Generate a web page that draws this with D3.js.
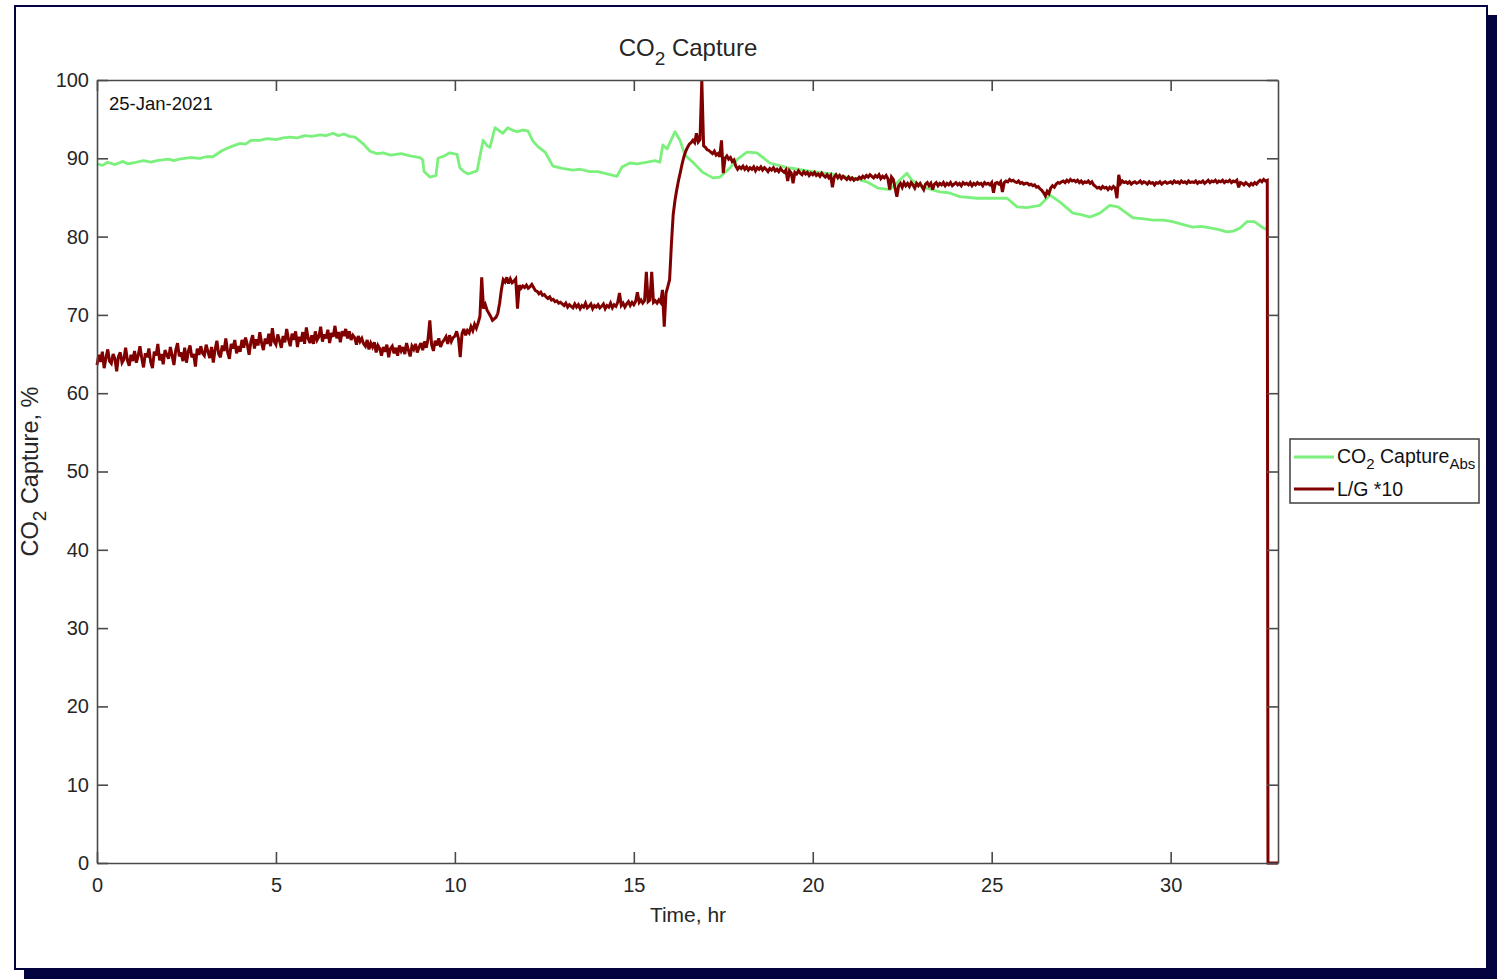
<!DOCTYPE html>
<html>
<head>
<meta charset="utf-8">
<script src="https://cdn.jsdelivr.net/npm/d3@7"></script>
<style>
  html, body { margin: 0; padding: 0; background: #ffffff; }
  svg { display: block; font-family: "Liberation Sans", Arial, Helvetica, sans-serif; }
</style>
</head>
<body>
<svg id="chart" width="1504" height="979"></svg>
<script>
// ---- data ---------------------------------------------------------------
const xTicks = [0, 5, 10, 15, 20, 25, 30];
const yTicks = [0, 10, 20, 30, 40, 50, 60, 70, 80, 90, 100];
const xDomain = [0, 33];
const yDomain = [0, 100];

const dateLabel = "25-Jan-2021";

// CO2 capture in absorber, % — [hour, value]
const captureAbs = [
  [0, 89.3], [0.15, 89.1], [0.3, 89.5], [0.5, 89.2], [0.73, 89.6], [0.85, 89.3], [1.0, 89.4],
  [1.3, 89.7], [1.5, 89.5], [1.68, 89.7], [2.0, 89.9], [2.15, 89.7], [2.3, 89.9], [2.6, 90.1],
  [2.88, 90.0], [3.05, 90.2], [3.24, 90.2], [3.5, 91.0], [3.75, 91.5], [4.0, 91.9], [4.15, 91.8],
  [4.3, 92.3], [4.55, 92.3], [4.75, 92.5], [5.0, 92.4], [5.2, 92.6], [5.39, 92.7], [5.6, 92.6],
  [5.8, 92.9], [6.0, 92.8], [6.23, 93.0], [6.4, 92.9], [6.59, 93.2], [6.75, 92.9], [6.9, 93.1],
  [7.05, 92.8], [7.21, 92.7], [7.45, 91.8], [7.63, 90.9], [7.82, 90.6], [8.0, 90.7], [8.2, 90.4],
  [8.5, 90.6], [8.75, 90.3], [9.02, 90.1], [9.1, 89.8], [9.14, 88.3], [9.3, 87.6], [9.47, 87.8],
  [9.53, 90.0], [9.7, 90.3], [9.86, 90.7], [10.06, 90.5], [10.14, 88.8], [10.25, 88.3],
  [10.37, 88.0], [10.62, 88.4], [10.79, 92.3], [10.9, 91.6], [10.98, 91.4], [11.12, 93.9],
  [11.34, 93.2], [11.48, 93.9], [11.6, 93.6], [11.74, 93.4], [11.9, 93.6], [12.04, 93.5],
  [12.18, 92.2], [12.32, 91.5], [12.52, 90.8], [12.74, 89.0], [13.0, 88.7], [13.3, 88.5],
  [13.5, 88.6], [13.77, 88.3], [14.0, 88.3], [14.25, 88.0], [14.53, 87.7], [14.67, 88.9],
  [14.89, 89.4], [15.1, 89.3], [15.37, 89.5], [15.6, 89.7], [15.73, 89.5], [15.81, 91.7],
  [15.93, 91.2], [16.15, 93.4], [16.29, 92.3], [16.43, 90.4], [16.65, 89.5], [16.93, 88.2],
  [17.21, 87.5], [17.41, 87.6], [17.69, 88.8], [17.9, 89.9], [18.16, 90.8], [18.44, 90.7],
  [18.8, 89.4], [19.28, 88.8], [19.6, 88.6], [20.0, 88.3], [20.5, 88.0], [20.96, 87.6],
  [21.2, 87.4], [21.51, 87.0], [21.82, 86.2], [22.16, 86.0], [22.38, 87.0], [22.63, 88.1],
  [22.77, 87.2], [23.08, 86.3], [23.55, 85.7], [23.8, 85.6], [24.11, 85.1], [24.59, 84.9],
  [25.03, 84.9], [25.43, 84.9], [25.71, 83.8], [25.98, 83.7], [26.35, 84.0], [26.63, 85.3],
  [26.91, 84.4], [27.27, 83.0], [27.5, 82.8], [27.75, 82.5], [28.02, 83.0], [28.3, 84.0],
  [28.53, 83.8], [28.95, 82.4], [29.2, 82.3], [29.51, 82.1], [29.8, 82.1], [30.06, 81.9],
  [30.3, 81.6], [30.62, 81.2], [30.85, 81.3], [31.1, 81.1], [31.35, 80.9], [31.57, 80.6],
  [31.75, 80.7], [31.94, 81.1], [32.13, 81.9], [32.34, 81.9], [32.59, 81.1], [32.7, 80.9]
];

// L/G ratio x10, sampled every 0.05 h from 0 h
const lgStart = 0;
const lgStep = 0.05;
const lgValues = [
  // 0 h
  63.6,64.9,64.0,65.3,63.2,64.5,65.6,64.1,63.8,65.0,64.4,62.8,64.7,65.2,63.9,64.3,65.8,64.2,63.5,64.9,
  // 1 h
  64.1,65.4,63.9,64.8,66.0,64.5,63.3,65.1,64.6,65.7,64.0,63.2,65.3,64.8,66.3,64.2,65.0,63.7,65.5,64.9,
  // 2 h
  64.4,65.9,64.8,63.6,65.5,66.4,64.7,65.2,64.1,65.8,63.9,65.3,66.1,64.6,65.0,63.4,65.7,64.9,66.0,65.1,
  // 3 h
  64.8,66.2,65.3,64.5,65.9,63.9,65.6,66.7,65.0,64.6,66.1,65.4,67.0,65.2,64.4,66.3,65.7,66.8,65.1,66.0,
  // 4 h
  65.3,66.8,65.8,67.1,66.2,64.9,66.6,67.4,65.7,66.9,66.1,67.8,66.4,65.5,67.0,66.3,67.6,66.0,68.3,66.6,
  // 5 h
  66.2,67.5,66.7,65.8,67.3,66.5,68.2,66.9,66.0,67.6,66.8,67.9,65.9,67.2,66.6,67.8,66.3,68.4,67.0,66.4,
  // 6 h
  67.4,66.3,67.9,66.8,67.2,68.5,66.6,67.5,67.0,68.1,66.4,67.7,67.2,68.6,67.0,67.8,66.5,67.9,67.3,68.2,
  // 7 h
  67.0,67.9,66.8,67.4,67.1,66.2,67.3,66.6,67.0,66.3,66.0,66.8,65.6,66.4,65.9,66.5,65.2,66.1,65.7,64.8,
  // 8 h
  65.9,65.3,66.2,64.6,65.7,66.0,65.1,65.8,64.8,66.1,65.4,65.9,65.0,66.4,65.5,64.7,66.0,65.6,66.3,65.2,
  // 9 h
  65.9,66.4,65.5,66.6,65.8,66.9,69.3,66.2,65.4,66.7,66.1,67.0,65.9,66.5,66.8,67.2,66.3,67.4,66.6,67.1,
  // 10 h
  67.3,67.9,67.0,64.6,67.6,68.2,67.4,68.0,67.7,68.5,68.0,68.8,68.3,69.0,69.8,74.8,70.8,71.3,70.6,70.2,
  // 11 h
  69.8,69.3,69.5,69.7,70.2,71.5,73.2,74.5,74.2,74.8,74.0,74.6,74.1,74.3,74.6,70.8,73.8,73.4,73.7,73.5,
  // 12 h
  73.8,73.4,73.6,73.9,73.5,73.1,73.0,72.7,72.9,72.5,72.6,72.3,72.1,72.3,71.9,72.0,71.7,71.8,71.5,71.6,
  // 13 h
  71.4,71.2,71.5,71.0,71.3,71.1,70.9,71.4,71.0,71.3,70.8,71.2,71.0,71.5,70.9,71.1,71.4,70.8,71.2,71.0,
  // 14 h
  71.3,70.9,71.1,71.4,70.8,71.2,71.0,71.5,70.9,71.3,71.1,71.6,72.8,71.2,71.5,71.0,71.4,71.7,71.2,71.6,
  // 15 h
  71.3,71.7,72.9,71.6,71.9,71.5,71.8,75.5,71.7,71.9,75.5,71.6,71.8,71.5,71.9,71.6,73.2,68.5,72.8,73.6,
  // 16 h
  74.5,79.0,82.8,84.6,86.0,87.2,88.2,89.3,90.2,90.9,91.4,91.8,92.0,92.3,92.0,93.2,92.1,92.4,100,91.6,
  // 17 h
  91.4,91.1,91.0,90.8,90.6,90.9,90.4,90.6,90.2,92.3,88.1,90.0,90.3,89.9,90.1,89.6,89.8,89.0,88.6,88.9,
  // 18 h
  88.7,89.0,88.6,88.9,88.5,88.8,88.6,88.9,88.4,88.8,88.6,88.9,88.5,88.8,88.6,88.3,88.7,88.5,88.8,88.4,
  // 19 h
  88.6,88.3,88.7,88.4,88.2,88.5,87.1,88.4,88.1,86.8,88.2,88.0,88.4,88.1,87.9,88.3,88.0,88.2,87.8,88.1,
  // 20 h
  87.9,88.2,87.8,88.0,87.7,88.1,87.8,87.6,87.9,87.5,87.8,86.3,87.6,87.9,87.5,87.8,87.4,87.7,87.5,87.3,
  // 21 h
  87.6,87.3,87.5,87.2,87.4,87.3,87.6,87.4,87.7,87.5,87.8,87.6,87.9,87.7,87.5,87.8,87.6,87.9,87.4,87.7,
  // 22 h
  87.5,87.8,87.4,86.0,87.6,87.3,86.2,85.1,86.5,86.8,86.3,86.9,86.5,86.8,86.4,86.9,86.6,86.2,86.8,86.5,
  // 23 h
  86.8,86.4,86.0,86.7,86.9,86.5,86.8,86.0,86.7,86.9,86.5,86.8,86.6,86.9,86.5,86.8,86.6,86.9,86.5,86.7,
  // 24 h
  86.9,86.6,86.8,86.5,86.9,86.7,86.8,86.6,86.9,86.5,86.8,86.6,86.9,86.7,86.8,86.5,86.9,86.7,86.8,86.6,
  // 25 h
  86.9,85.6,86.8,86.9,86.7,87.0,85.7,86.9,87.1,87.0,87.3,87.1,87.2,87.0,86.9,87.1,86.8,86.9,86.7,86.8,
  // 26 h
  86.8,86.6,86.7,86.5,86.6,86.3,86.4,86.1,85.9,85.6,85.2,85.8,85.5,86.2,86.5,86.3,86.7,86.9,86.8,87.0,
  // 27 h
  87.1,86.9,87.2,87.0,87.3,87.1,87.2,87.0,87.2,86.9,87.1,86.8,87.0,86.9,87.1,86.8,87.0,86.6,86.4,86.2,
  // 28 h
  86.3,86.1,86.4,86.2,86.3,86.0,86.3,86.1,86.4,86.2,84.9,87.9,86.8,87.1,86.9,87.0,86.8,87.0,86.7,86.9,
  // 29 h
  87.0,86.8,86.9,87.1,86.8,87.0,86.9,86.7,87.0,86.8,86.9,86.6,86.9,86.8,87.0,86.7,86.9,87.0,86.8,86.9,
  // 30 h
  87.0,86.8,87.1,86.9,87.0,86.8,87.1,86.9,87.0,86.8,87.1,86.9,87.0,86.9,87.1,86.8,87.0,86.9,87.1,86.8,
  // 31 h
  87.0,87.2,86.9,87.1,87.0,87.2,86.9,87.1,87.0,87.2,86.9,87.1,87.0,87.2,86.9,87.1,87.0,87.2,86.3,86.9,
  // 32 h
  86.8,86.6,86.9,86.7,86.5,86.8,86.6,86.9,86.7,87.0,87.2,87.0,87.3,87.1,87.2
];
// logging stops: signal falls to zero for the remaining record
const lgTail = [[32.72, 0], [33.0, 0]];

// ---- layout -------------------------------------------------------------
const svg = d3.select("#chart");
const plot = { left: 97, right: 1278, top: 80, bottom: 863 };
const navy = "#03033f";
const axisColor = "#4a4a4a";
const textColor = "#262626";
const greenColor = "#7cf07c";
const redColor = "#800000";
const tickLen = 11;

// figure frame with drop shadow
svg.append("rect").attr("x", 24).attr("y", 15).attr("width", 1473).attr("height", 964).attr("fill", navy);
svg.append("rect").attr("x", 15).attr("y", 6).attr("width", 1472).attr("height", 963)
  .attr("fill", "#ffffff").attr("stroke", navy).attr("stroke-width", 2);

const x = d3.scaleLinear().domain(xDomain).range([plot.left, plot.right]);
const y = d3.scaleLinear().domain(yDomain).range([plot.bottom, plot.top]);

// ---- series -------------------------------------------------------------
const lgSeries = lgValues.map((v, i) => [lgStart + i * lgStep, v]).concat(lgTail);

const line = d3.line().x(d => x(d[0])).y(d => y(d[1]));

svg.append("path").datum(captureAbs)
  .attr("d", line).attr("fill", "none")
  .attr("stroke", greenColor).attr("stroke-width", 2.8).attr("stroke-linejoin", "round");

svg.append("path").datum(lgSeries)
  .attr("d", line).attr("fill", "none")
  .attr("stroke", redColor).attr("stroke-width", 3).attr("stroke-linejoin", "miter")
  .attr("stroke-miterlimit", 3);

// ---- axes (box with inward ticks) --------------------------------------
function styleAxis(g) {
  g.selectAll(".domain").attr("stroke", axisColor).attr("stroke-width", 1.6);
  g.selectAll(".tick line").attr("stroke", axisColor).attr("stroke-width", 1.6);
  g.selectAll(".tick text").attr("fill", textColor).attr("font-size", 20)
    .attr("font-family", "'Liberation Sans', Arial, sans-serif");
}

svg.append("g").attr("transform", `translate(0,${plot.bottom})`)
  .call(d3.axisBottom(x).tickValues(xTicks).tickSizeInner(-tickLen).tickSizeOuter(0).tickPadding(15))
  .call(styleAxis);
svg.append("g").attr("transform", `translate(0,${plot.top})`)
  .call(d3.axisTop(x).tickValues(xTicks).tickSizeInner(-tickLen).tickSizeOuter(0).tickFormat(""))
  .call(styleAxis);
svg.append("g").attr("transform", `translate(${plot.left},0)`)
  .call(d3.axisLeft(y).tickValues(yTicks).tickSizeInner(-tickLen).tickSizeOuter(0).tickPadding(8))
  .call(styleAxis);
svg.append("g").attr("transform", `translate(${plot.right},0)`)
  .call(d3.axisRight(y).tickValues(yTicks).tickSizeInner(-tickLen).tickSizeOuter(0).tickFormat(""))
  .call(styleAxis);

// ---- text ---------------------------------------------------------------
const title = svg.append("text").attr("x", 688).attr("y", 56)
  .attr("text-anchor", "middle").attr("font-size", 24).attr("fill", textColor);
title.append("tspan").text("CO");
title.append("tspan").attr("font-size", 19).attr("dy", 9).text("2");
title.append("tspan").attr("dy", -9).text(" Capture");

svg.append("text").attr("x", 688).attr("y", 922)
  .attr("text-anchor", "middle").attr("font-size", 21).attr("fill", textColor)
  .text("Time, hr");

const ylab = svg.append("text")
  .attr("transform", `translate(38,${(plot.top + plot.bottom) / 2}) rotate(-90)`)
  .attr("text-anchor", "middle").attr("font-size", 23.5).attr("fill", textColor);
ylab.append("tspan").text("CO");
ylab.append("tspan").attr("font-size", 19).attr("dy", 8).text("2");
ylab.append("tspan").attr("dy", -8).text(" Capture, %");

svg.append("text").attr("x", 109).attr("y", 110)
  .attr("font-size", 18.5).attr("fill", "#111111").text(dateLabel);

// ---- legend -------------------------------------------------------------
const legend = svg.append("g");
legend.append("rect").attr("x", 1290).attr("y", 439).attr("width", 189).attr("height", 64)
  .attr("fill", "#ffffff").attr("stroke", axisColor).attr("stroke-width", 1.6);

const legendRows = [
  { color: greenColor, y: 457 },
  { color: redColor, y: 489 }
];
legend.selectAll("line.key").data(legendRows).join("line").attr("class", "key")
  .attr("x1", 1294).attr("x2", 1334).attr("y1", d => d.y).attr("y2", d => d.y)
  .attr("stroke", d => d.color).attr("stroke-width", 2.8);

const l1 = legend.append("text").attr("x", 1337).attr("y", 463)
  .attr("font-size", 19.5).attr("fill", "#111111");
l1.append("tspan").text("CO");
l1.append("tspan").attr("font-size", 15).attr("dy", 6).text("2");
l1.append("tspan").attr("dy", -6).text(" Capture");
l1.append("tspan").attr("font-size", 15).attr("dy", 6).text("Abs");

legend.append("text").attr("x", 1337).attr("y", 496)
  .attr("font-size", 19.5).attr("fill", "#111111").text("L/G *10");
</script>
</body>
</html>
